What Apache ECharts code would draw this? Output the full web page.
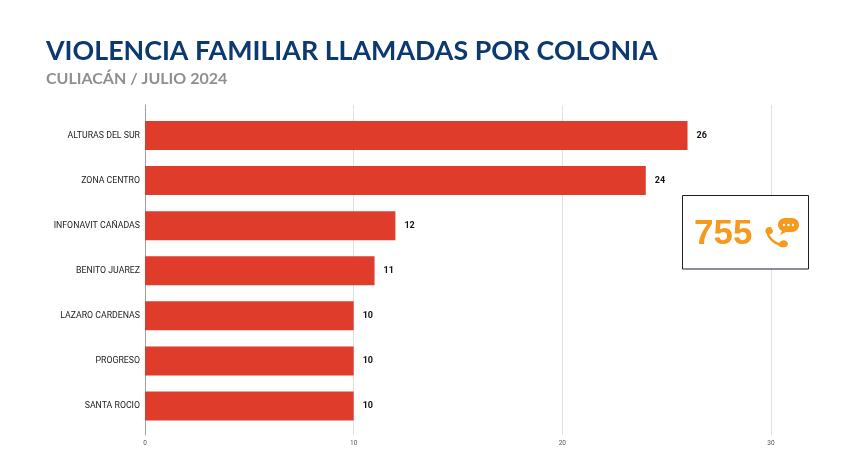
<!DOCTYPE html>
<html><head><meta charset="utf-8">
<style>html,body{margin:0;padding:0;background:#fff}#c{width:843px;height:459px}</style>
<script src="https://cdn.jsdelivr.net/npm/echarts@6/dist/echarts.min.js"></script>
</head><body><div id="c"></div>
<script>
const categories = ["ALTURAS DEL SUR","ZONA CENTRO","INFONAVIT CAÑADAS","BENITO JUAREZ","LAZARO CARDENAS","PROGRESO","SANTA ROCIO"];
const llamadas = [26,24,12,11,10,10,10];
const titleText = "VIOLENCIA FAMILIAR LLAMADAS POR COLONIA";
const subtitleText = "CULIACÁN / JULIO 2024";
const totalText = "755";
const iconSvg = '<svg xmlns="http://www.w3.org/2000/svg" width="45" height="40" viewBox="0 0 45 40">'
 + '<path fill="none" stroke="#f59a1e" stroke-width="2.6" stroke-linecap="round" d="M8 19C7 25 14 32 23 33"/>'
 + '<path fill="#f59a1e" d="M6 17c1-2 3-2 5-2l2 4c0 2-1 3-3 3l-3 0c-2-2-2-3-1-5zM19 31l2-2c2-1 4-1 5 0l2 2c0 2-1 4-3 4-3 1-5 0-7-2z"/>'
 + '<path fill="#f59a1e" d="M25 6h7c4 0 7 3 7 7s-3 7-7 7h-6l-6 3 2-4c-2-1-4-3-4-6 0-4 3-7 7-7z"/>'
 + '<circle cx="24" cy="13" r="1.2" fill="#fff"/><circle cx="28.5" cy="13" r="1.2" fill="#fff"/><circle cx="33" cy="13" r="1.2" fill="#fff"/>'
 + '</svg>';
const chart = echarts.init(document.getElementById('c'),null,{renderer:'canvas'});
chart.setOption({
  animation:false,
  backgroundColor:'#fff',
  title:[
    {text:titleText,left:46,top:38,padding:0,textStyle:{fontFamily:'Lato',fontWeight:'bold',fontSize:26.8,color:'#0c3a70'}},
    {text:subtitleText,left:46,top:70.5,padding:0,textStyle:{fontFamily:'Lato',fontWeight:'bold',fontSize:16,color:'#8f8f8f'}}
  ],
  grid:[
    {left:145,right:72,top:113,height:315.5},
    {left:145,right:72,top:105,height:330}
  ],
  xAxis:[
    {gridIndex:0,type:'value',min:0,max:30,interval:10,axisLabel:{show:false},axisLine:{show:false},axisTick:{show:false},splitLine:{show:false}},
    {gridIndex:1,type:'value',min:0,max:30,interval:10,
     axisLabel:{fontFamily:'Roboto',fontSize:6.5,color:'#555',margin:5},
     axisLine:{show:false},axisTick:{show:false},
     splitLine:{show:true,lineStyle:{color:'#e2e2e2',width:1}}}
  ],
  yAxis:[
    {gridIndex:0,type:'category',inverse:true,data:categories,
     axisLine:{show:false},axisTick:{show:false},
     axisLabel:{fontFamily:'Roboto',fontSize:8.75,color:'#222',margin:5,padding:[1.5,0,0,0]}},
    {gridIndex:1,type:'value',min:0,max:1,axisLabel:{show:false},axisTick:{show:false},splitLine:{show:false},
     axisLine:{show:true,lineStyle:{color:'#a0a0a0',width:1}}}
  ],
  series:[{type:'bar',xAxisIndex:0,yAxisIndex:0,data:llamadas,barWidth:29,
    itemStyle:{color:'#e03c2b'},
    label:{show:true,position:'right',distance:9,fontFamily:'Roboto',fontWeight:'bold',fontSize:9,color:'#111',padding:[1.5,0,0,0]}}],
  graphic:[
    {type:'rect',z:10,shape:{x:682.5,y:195.5,width:126,height:73.5},style:{fill:'#fff',stroke:'#1c1c2c',lineWidth:1}},
    {type:'text',z:11,x:694,y:217,style:{text:totalText,fontFamily:'Liberation Sans',fontWeight:'bold',fontSize:35,fill:'#f59a1e'}},
    {type:'image',z:11,x:760,y:212,style:{image:'data:image/svg+xml;charset=utf-8,'+encodeURIComponent(iconSvg),width:45,height:40}}
  ]
});
</script></body></html>
